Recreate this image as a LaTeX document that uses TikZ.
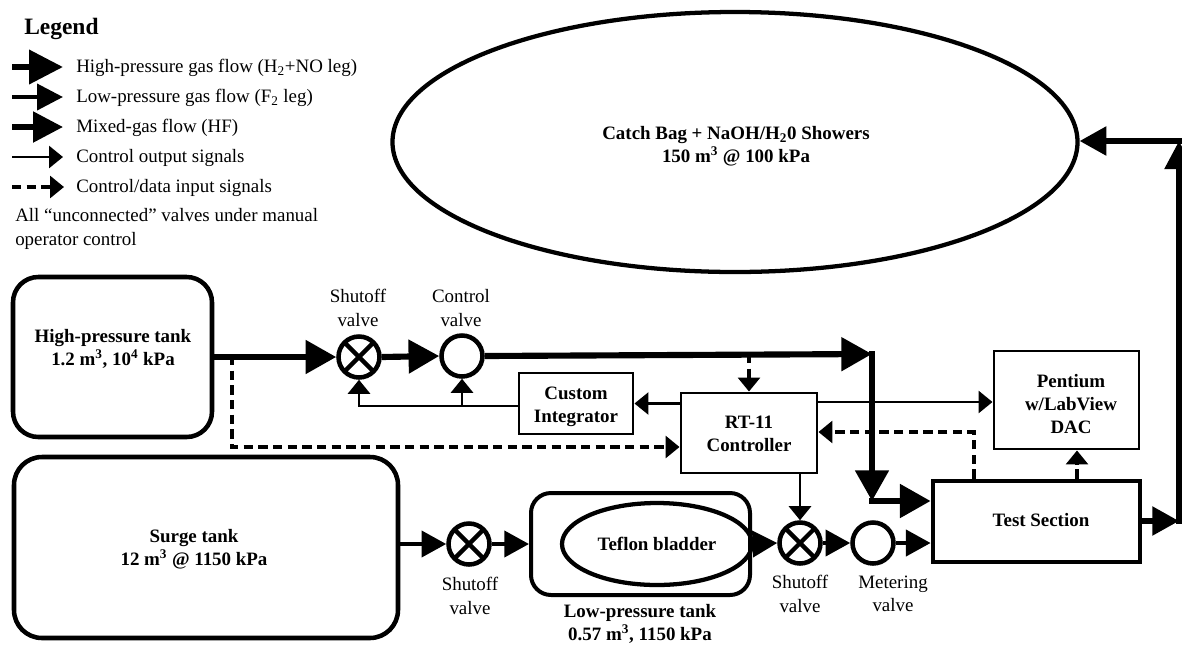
\documentclass[tikz,border=0pt]{standalone}
\usepackage{fontspec}
\setmainfont{Liberation Serif}
\usetikzlibrary{arrows.meta,shapes.geometric}
\tikzset{
  x=0.75pt,y=-0.75pt,
  txt/.style={font=\fontsize{14.2}{17.5}\selectfont,align=center,inner sep=0pt},
  txtl/.style={font=\fontsize{14.2}{17.5}\selectfont,align=left,anchor=west,inner sep=0pt},
  btxt/.style={font=\fontsize{14.2}{17}\selectfont\bfseries,align=center,inner sep=0pt},
  tank/.style={draw,rounded corners=19pt,line width=3.4pt,inner sep=0pt},
  boxthin/.style={draw,rectangle,line width=2.2pt,inner sep=0pt,align=center,font=\fontsize{14.2}{16.5}\selectfont\bfseries},
  bag/.style={draw,ellipse,line width=3.2pt,inner sep=0pt,align=center},
  valve/.style={draw,circle,line width=3.4pt,inner sep=0pt,minimum size=30.75pt},
  xvalve/.style={valve,path picture={\draw[line width=3.2pt] (path picture bounding box.north west)--(path picture bounding box.south east) (path picture bounding box.north east)--(path picture bounding box.south west);}},
  hi/.style={line width=4.6pt},
  lo/.style={line width=3pt},
  mix/.style={line width=4pt},
  ctl/.style={line width=2.1pt},
  dsh/.style={line width=2.3pt,dash pattern=on 7pt off 4pt},
  hdL/.style={-{Triangle[length=23pt,width=24.5pt,sep=0pt]}},
  hdM/.style={-{Triangle[length=18.5pt,width=19.5pt,sep=0pt]}},
  hdS/.style={-{Triangle[length=10.5pt,width=16.5pt,sep=0pt]}},
}
\begin{document}
\begin{tikzpicture}
\useasboundingbox (0,0) rectangle (1182,644);
\fill[white] (0,0) rectangle (1182,644);

% legend
\node[anchor=west,inner sep=0pt,font=\fontsize{17.6}{20}\selectfont\bfseries] (legend) at (24,29) {Legend};
\coordinate (a1) at (12,67);  \coordinate (b1) at (63,67);
\coordinate (a2) at (12,97);  \coordinate (b2) at (63,97);
\coordinate (a3) at (12,127); \coordinate (b3) at (63,127);
\coordinate (a4) at (12,157); \coordinate (b4) at (63,157);
\coordinate (a5) at (12,187); \coordinate (b5) at (64,187);
\draw[hi,-{Triangle[length=25.5pt,width=25pt,sep=0pt]}] (a1)--(b1);
\draw[lo,-{Triangle[length=19.5pt,width=19.5pt,sep=0pt]}] (a2)--(b2);
\draw[mix,-{Triangle[length=22.5pt,width=22.5pt,sep=0pt]}] (a3)--(b3);
\draw[ctl,hdS] (a4)--(b4);
\draw[dsh,hdS] (a5)--(b5);
\node[txtl] (t1) at (76,67.5)  {High-pressure gas flow (H\textsubscript{2}+NO leg)};
\node[txtl] (t2) at (76,97.5)  {Low-pressure gas flow (F\textsubscript{2} leg)};
\node[txtl] (t3) at (76,127.5) {Mixed-gas flow (HF)};
\node[txtl] (t4) at (76,157.5) {Control output signals};
\node[txtl] (t5) at (76,187.5) {Control/data input signals};
\node[txtl] (t6) at (15,229) {All “unconnected” valves under manual\\operator control};

% bag
\node[bag,minimum width=513.75pt,minimum height=195pt] (catch) at (735,142) {};
\node[btxt] (catchtxt) at (736,146) {Catch Bag + NaOH/H\textsubscript{2}0 Showers\\150 m\textsuperscript{3} @ 100 kPa};

% tanks
\node[tank,minimum width=149.25pt,minimum height=120pt] (hp) at (112.5,357) {};
\node[btxt] (hptxt) at (113,349) {High-pressure tank\\1.2 m\textsuperscript{3}, 10\textsuperscript{4} kPa};
\node[tank,rounded corners=21pt,minimum width=288pt,minimum height=135.75pt] (surge) at (206,547.5) {};
\node[btxt] (surgetxt) at (194,549) {Surge tank\\12 m\textsuperscript{3} @ 1150 kPa};
\node[tank,rounded corners=15pt,line width=3pt,minimum width=164.25pt,minimum height=76.5pt] (lp) at (640.5,544) {};
\node[bag,minimum width=142.5pt,minimum height=61.5pt,font=\fontsize{14.2}{16}\selectfont\bfseries] (bladder) at (657,544) {Teflon bladder};
\node[btxt] (lptxt) at (640,624) {Low-pressure tank\\0.57 m\textsuperscript{3}, 1150 kPa};

% valves
\node[xvalve] (v1) at (359,357) {};
\node[valve]  (v2) at (462,356) {};
\node[xvalve] (v3) at (469,544) {};
\node[xvalve] (v4) at (800,543) {};
\node[valve]  (v5) at (873,543) {};
\node[txt] (v1t) at (358,308) {Shutoff\\valve};
\node[txt] (v2t) at (461,308) {Control\\valve};
\node[txt] (v3t) at (470,596) {Shutoff\\valve};
\node[txt] (v4t) at (800,594) {Shutoff\\valve};
\node[txt] (v5t) at (893,594) {Metering\\valve};

% boxes
\node[boxthin,minimum width=85.5pt,minimum height=45.75pt] (ci) at (576,403.5) {};
\node[btxt] (citxt) at (576,407) {Custom\\Integrator};
\node[boxthin,minimum width=102pt,minimum height=60pt] (rt) at (749,433) {};
\node[btxt] (rttxt) at (749,434) {RT-11\\Controller};
\node[boxthin,minimum width=108.75pt,minimum height=73.5pt] (pc) at (1066.5,400) {};
\node[btxt] (pctxt) at (1071,404) {Pentium\\w/LabView\\DAC};
\node[boxthin,line width=3.6pt,minimum width=155.25pt,minimum height=60.75pt] (ts) at (1036.5,521.5) {};
\node[btxt] (tstxt) at (1041,520) {Test Section};

% junctions
\coordinate (j1) at (872,354);
\coordinate (j2) at (872,501);
\coordinate (j3) at (1179,521);
\coordinate (j4) at (1179,141);
\coordinate (d1) at (232,356);
\coordinate (d2) at (232,447);
\coordinate (d3) at (974,432);
\coordinate (c1) at (817,402);
\coordinate (p1) at (1077,470);
\coordinate (c2) at (519,406);

% high pressure flow
\draw[hi,hdL] (hp.east|-v1) -- (v1.west);
\draw[hi,hdL] (v1.east) -- (v2.west);
\draw[hi,hdL] (v2.east) -- (j1);
\draw[hi,line cap=rect,hdL] (j1) -- (j2);
\draw[hi,line cap=rect,hdL] (j2) -- (ts.west|-j2);
% low pressure flow
\draw[lo,hdM] (surge.east|-v3) -- (v3.west);
\draw[lo,hdM] (v3.east) -- (lp.west|-v3);
\draw[lo,hdM] (lp.east) -- (v4.west);
\draw[lo,hdM] (v4.east) -- (v5.west);
\draw[lo,hdM] (v5.east) -- (ts.west|-v5);
% mixed flow
\draw[mix,-{Triangle[length=20pt,width=21pt,sep=0pt]}] (ts.east|-j3) -- (j3);
\draw[mix,line cap=rect,-{Triangle[length=21pt,width=21pt,sep=0pt]}] (j3) -- (j4);
\draw[mix,line cap=rect,-{Triangle[length=20pt,width=21pt,sep=0pt]}] (j4) -- (catch.east|-j4);
% control output
\draw[ctl,hdS] (rt.west|-ci.east) -- (ci.east);
\draw[ctl,hdS] (ci.west|-c2) -| (v1.south);
\draw[ctl,hdS] (v2.south|-c2) -- (v2.south);
\draw[ctl,hdS] (rt.east|-c1) -- (pc.west|-c1);
\draw[ctl,hdS] (v4.north|-rt.south) -- (v4.north);
% data input
\draw[dsh,hdS] (d1) -- (d2) -- (rt.west|-d2);
\draw[dsh,hdS] (rt.north|-j1) -- (rt.north);
\draw[dsh,hdS] (d3|-ts.north) -- (d3) -- (rt.east|-d3);
\draw[dsh,hdS] (p1|-ts.north) -- (p1|-pc.south);
\end{tikzpicture}
\end{document}
